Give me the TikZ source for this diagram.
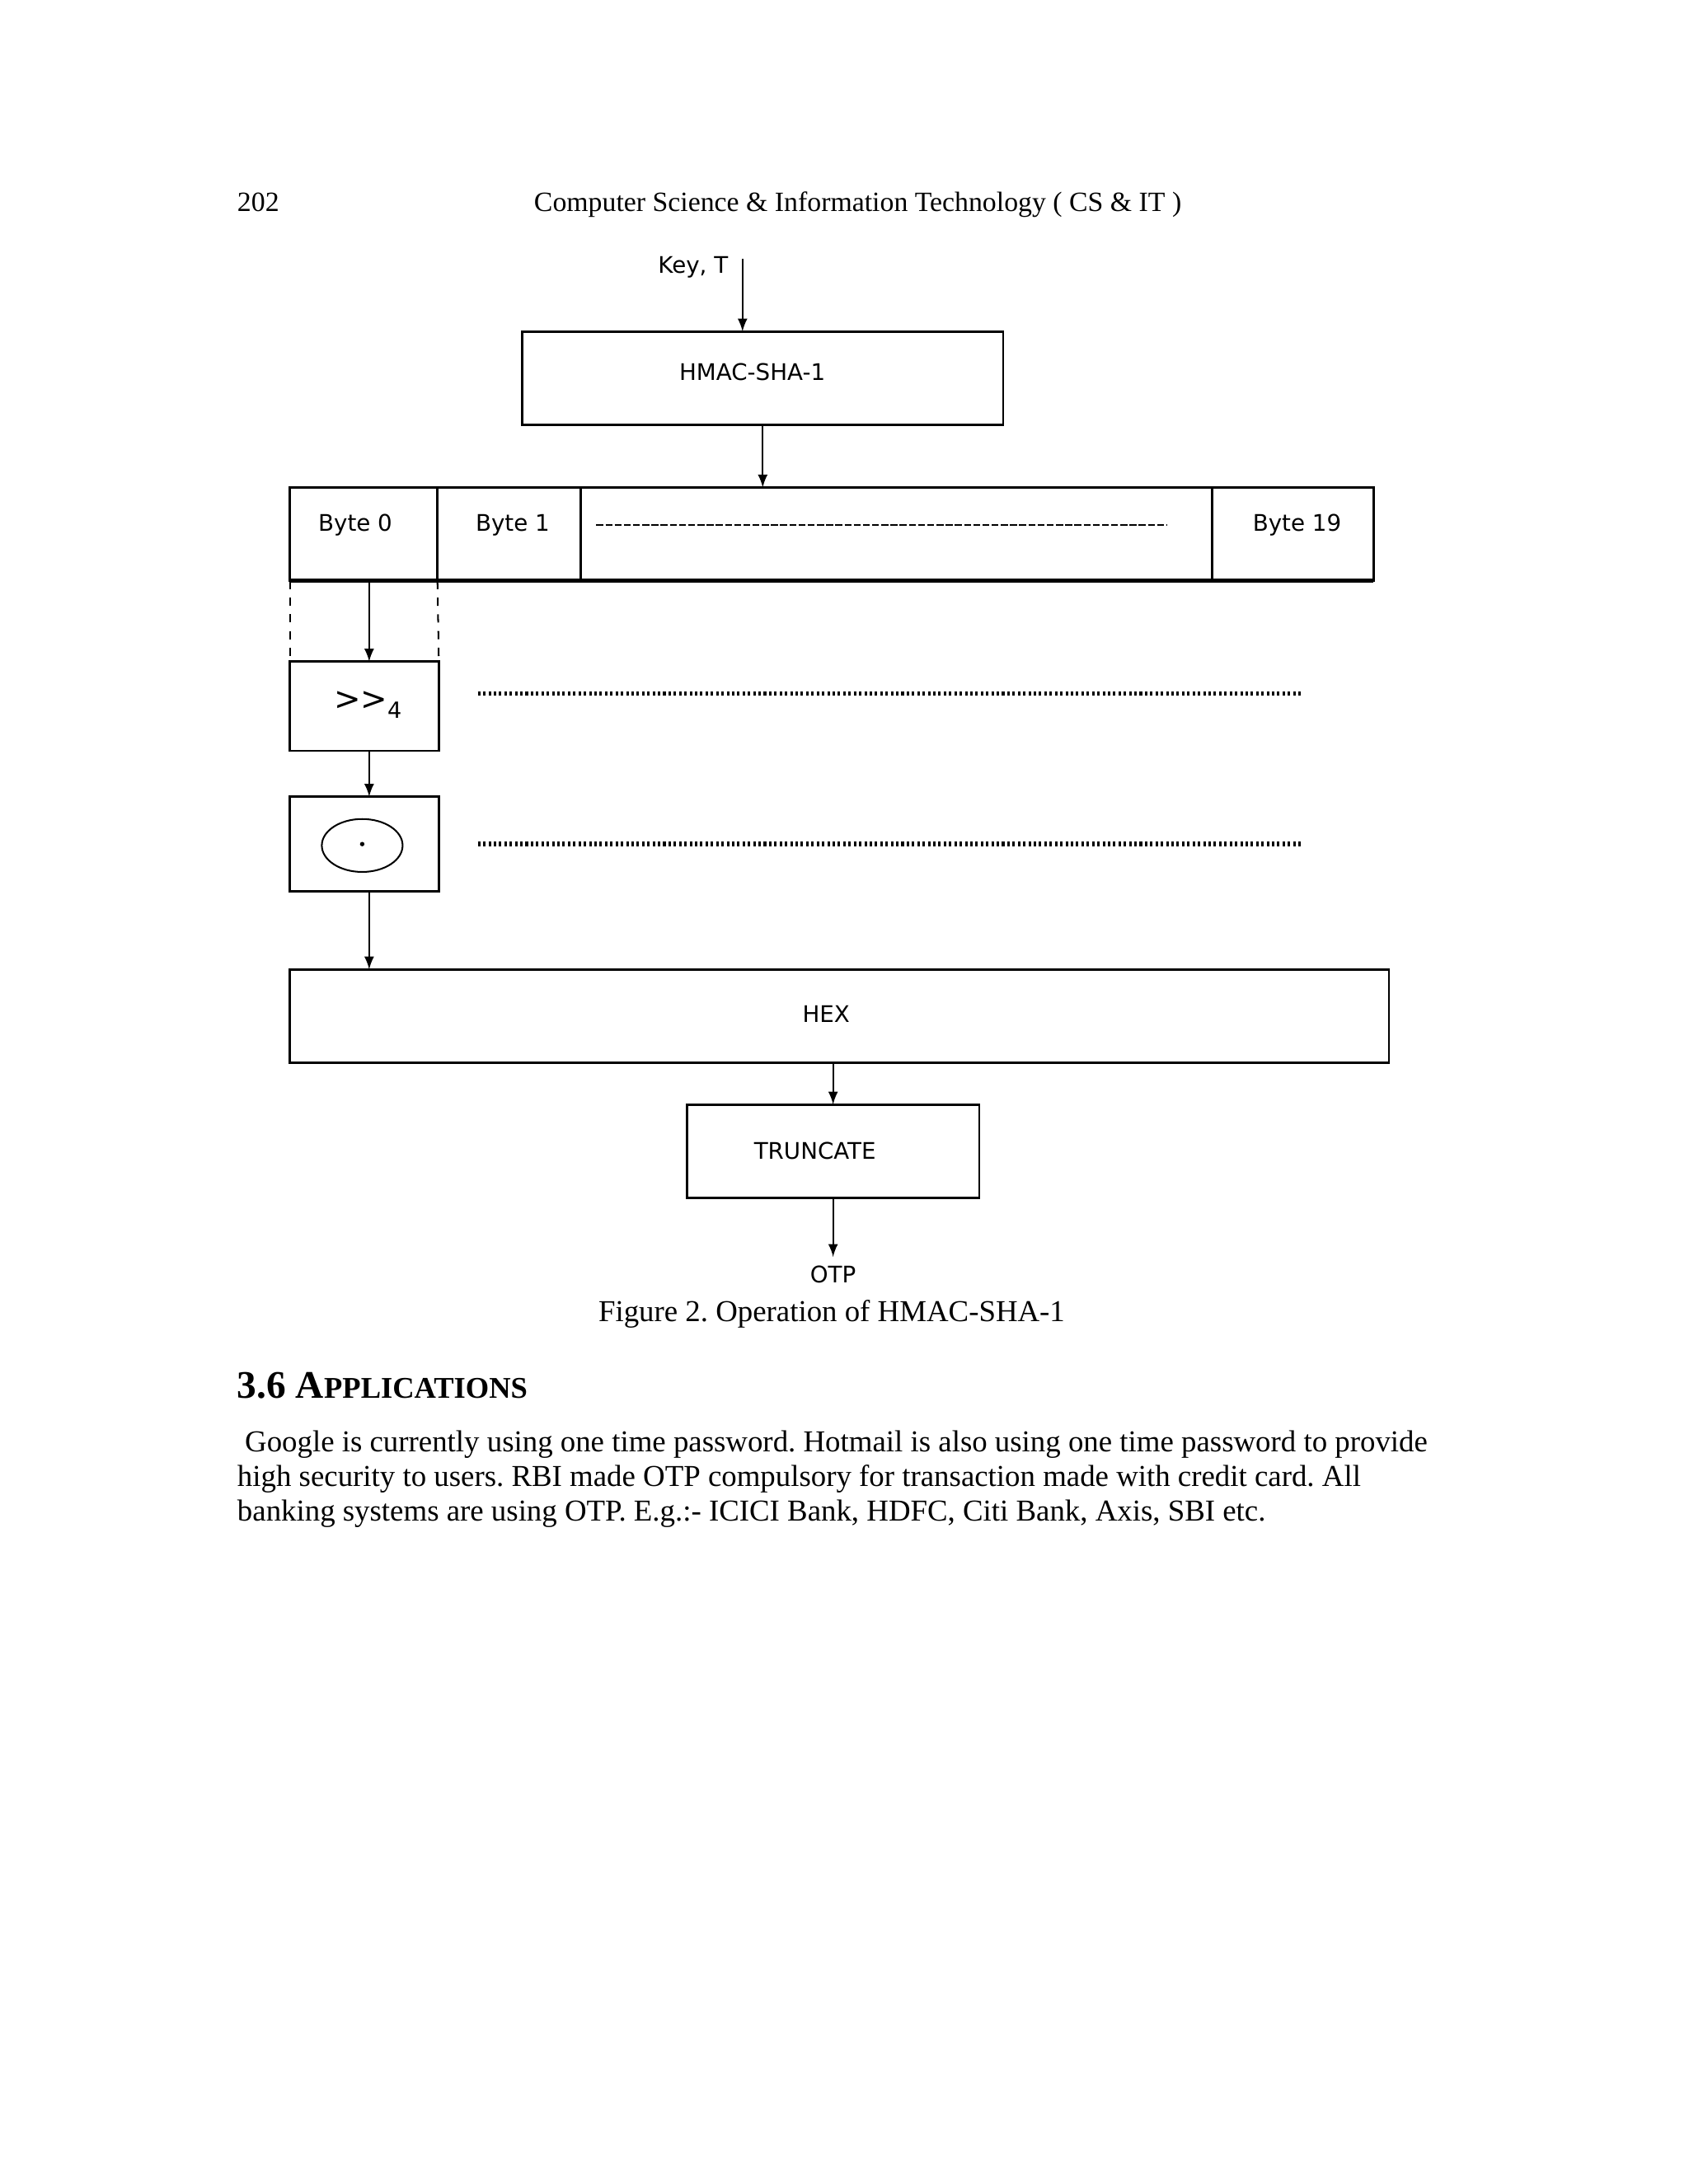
\documentclass[tikz,border=0pt]{standalone}
\usepackage{fontspec}
\setmainfont{Liberation Serif}
\newfontfamily\diafont{DejaVu Sans}
\frenchspacing
\begin{document}
\begin{tikzpicture}[x=0.5pt, y=-0.5pt, >=latex,
  bx/.style 2 args={draw, line width=0.8pt, inner sep=0pt, outer sep=0pt,
    minimum width=#1*0.5pt, minimum height=#2*0.5pt},
  lbl/.style={font=\diafont\fontsize{8.2}{9}\selectfont, inner sep=0pt},
  txt/.style={font=\fontsize{10.9}{12.5}\selectfont, inner sep=0pt, anchor=base west},
  arr/.style={->, line width=0.6pt},
  dots/.style={line width=1.6pt, dash pattern=on 0.9pt off 1pt}]
\useasboundingbox (0,0) rectangle (1212,1568);
%Kopfzeile
\node[txt, font=\fontsize{10}{12}\selectfont] (page) at (170,151.5) {202};
\node[txt, font=\fontsize{10}{12}\selectfont] (head) at (383,151.5) {Computer Science \& Information Technology ( CS \& IT )};

%HMAC
\node[lbl, anchor=east] (key) at (523,192) {Key, T};
\coordinate (kin) at (533,186);
\node[bx={345}{67}] (hmac) at (547.5,271.5) {};
\node[lbl] (hmact) at (540,267) {HMAC-SHA-1};
\draw[arr] (kin) -- (kin |- hmac.north);

%Bytes
\node[bx={106}{67}] (b0) at (261,383.5) {};
\node[bx={103}{67}] (b1) at (365.5,383.5) {};
\node[bx={453}{67}] (bm) at (643.5,383.5) {};
\node[bx={116}{67}] (b19) at (928,383.5) {};
\node[lbl] (b0t) at (255,377) {Byte 0};
\node[lbl] (b1t) at (368,377) {Byte 1};
\node[lbl] (b19t) at (931,377) {Byte 19};
\draw[line width=0.6pt, dash pattern=on 2.5pt off 0.8pt] (428,377) -- (838,377);
\draw[line width=1.4pt] (b0.south west) -- (b19.south east);
\draw[arr] (hmac.south) -- (hmac.south |- bm.north);

%Shift
\node[bx={107}{64}] (shf) at (261.5,507) {};
\node[inner sep=0pt, font=\diafont\fontsize{11.5}{12}\selectfont] (shft) at (264,506)
  {>{}>\raisebox{-3pt}{\fontsize{8}{8}\selectfont 4}};
\draw[dashed, line width=0.6pt] (b0.south west) -- (shf.north west);
\draw[dashed, line width=0.6pt] (b0.south east) -- (shf.north east);
\draw[arr] ([xshift=2pt]b0.south) -- ([xshift=1.75pt]shf.north);
\draw[dots] (343,498) -- (934,498);

%Punkt
\node[bx={107}{68}] (dotb) at (261.5,606) {};
\draw[line width=0.6pt] (260,607) ellipse [x radius=29, y radius=19];
\fill (260,606) circle (1.6);
\draw[dots] (343,606) -- (935,606);
\draw[arr] ([xshift=1.75pt]shf.south) -- ([xshift=1.75pt]dotb.north);

%HEX, TRUNCATE
\node[bx={789}{67}] (hex) at (602.5,729.5) {};
\node[lbl] (hext) at (593,728) {HEX};
\node[bx={210}{67}] (trunc) at (598,826.5) {};
\node[lbl] (trunct) at (585,826) {TRUNCATE};
\node[lbl] (otp) at (598,915) {OTP};
\draw[arr] ([xshift=1.75pt]dotb.south) -- ([xshift=1.75pt]dotb.south |- hex.north);
\draw[arr] (trunc.north |- hex.south) -- (trunc.north);
\draw[arr] (trunc.south) -- ([yshift=3pt]otp.north);

%Text
\node[font=\fontsize{10.9}{13}\selectfont, inner sep=0pt, anchor=base] (cap) at (597,949)
  {Figure 2. Operation of HMAC-SHA-1};
\node[txt, font=\bfseries\fontsize{14}{16}\selectfont] (sec) at (170,1004)
  {3.6 A{\fontsize{10.8}{12}\selectfont PPLICATIONS}};
\node[txt] (l1) at (170,1042.5) {\ Google is currently using one time password. Hotmail is also using one time password to provide};
\node[txt] (l2) at (170,1067.2) {high security to users. RBI made OTP compulsory for transaction made with credit card. All};
\node[txt] (l3) at (170,1091.8) {banking systems are using OTP. E.g.:- ICICI Bank, HDFC, Citi Bank, Axis, SBI etc.};
\end{tikzpicture}
\end{document}
